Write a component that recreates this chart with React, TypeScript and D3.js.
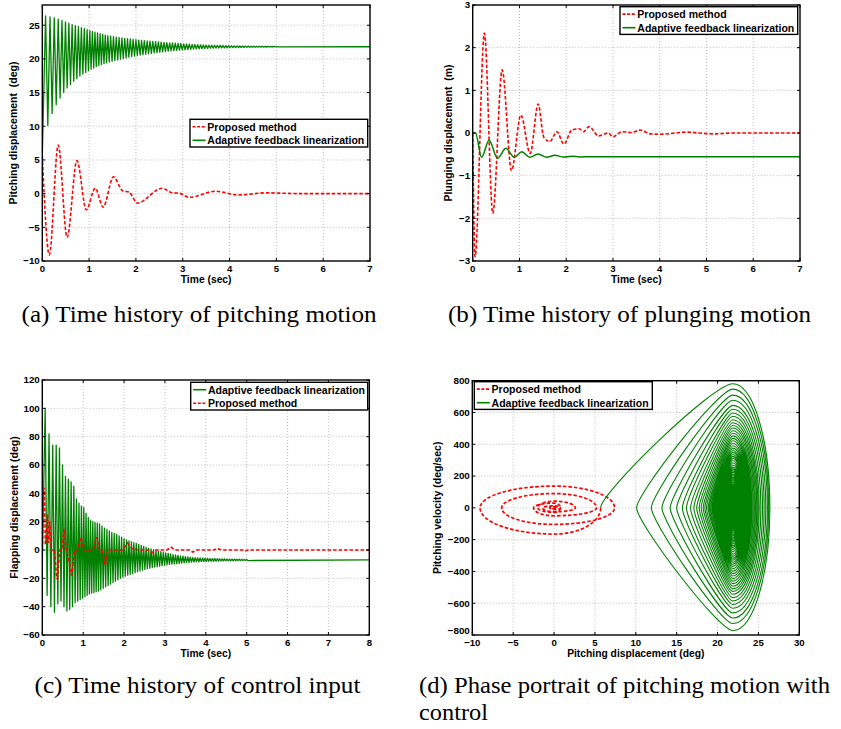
import React from "react";
import * as d3 from "d3";

// ---------------- data ----------------
// times (s) of successive pitch maxima of the adaptive-feedback-linearization response
const cycleTimes = [
  0.07, 0.165, 0.255, 0.34, 0.42, 0.495, 0.567, 0.637, 0.705, 0.771, 0.835, 0.897, 0.957, 1.015, 1.07, 1.125, 1.18, 1.235, 1.29, 1.345, 1.4,
  1.46, 1.52, 1.58, 1.64, 1.7, 1.76, 1.82, 1.88, 1.94, 2.0,
  2.06, 2.12, 2.18, 2.24, 2.3, 2.36, 2.42, 2.48, 2.54, 2.6,
  2.66, 2.72, 2.78, 2.84, 2.9, 2.96, 3.02, 3.08, 3.14, 3.2,
  3.26, 3.32, 3.38, 3.44, 3.5, 3.56, 3.62, 3.68, 3.74, 3.8,
  3.86, 3.92, 3.98, 4.04, 4.1, 4.16, 4.22, 4.28, 4.34, 4.4,
  4.46, 4.52, 4.58, 4.64, 4.7, 4.76, 4.82, 4.88, 4.94, 5.0,
];
// pitch maxima / minima (deg) per cycle
const pitchHigh = [
  26.4, 26.25, 26.1, 25.9, 25.7, 25.5, 25.3, 25.1, 24.95, 24.8, 24.65, 24.5, 24.35, 24.2, 24.08, 23.96, 23.85, 23.74, 23.64, 23.54, 23.45,
  23.38, 23.31, 23.24, 23.18, 23.12, 23.06, 23.0, 22.95, 22.9, 22.85,
  22.8, 22.76, 22.72, 22.68, 22.64, 22.6, 22.56, 22.52, 22.48, 22.45,
  22.42, 22.39, 22.36, 22.33, 22.3, 22.27, 22.24, 22.21, 22.18, 22.15,
  22.13, 22.11, 22.09, 22.07, 22.05, 22.04, 22.03, 22.02, 22.01, 22.0,
  21.98, 21.97, 21.96, 21.95, 21.94, 21.93, 21.92, 21.91, 21.9, 21.9,
  21.89, 21.88, 21.88, 21.87, 21.87, 21.86, 21.86, 21.85, 21.85, 21.84,
];
const pitchLow = [
  10.1, 11.9, 13.2, 14.2, 15.0, 15.7, 16.2, 16.7, 17.1, 17.45, 17.75, 18.0, 18.25, 18.45, 18.65, 18.85, 19.0, 19.15, 19.3, 19.43, 19.55,
  19.65, 19.75, 19.85, 19.95, 20.05, 20.15, 20.25, 20.35, 20.43, 20.5,
  20.57, 20.64, 20.7, 20.76, 20.82, 20.88, 20.94, 21.0, 21.05, 21.1,
  21.14, 21.18, 21.22, 21.26, 21.3, 21.33, 21.36, 21.39, 21.42, 21.45,
  21.48, 21.5, 21.52, 21.54, 21.56, 21.58, 21.6, 21.61, 21.62, 21.63,
  21.64, 21.65, 21.66, 21.67, 21.68, 21.69, 21.7, 21.7, 21.71, 21.72,
  21.72, 21.73, 21.74, 21.74, 21.75, 21.75, 21.76, 21.76, 21.77, 21.77,
];
// pitch-rate peaks (deg/s) on the rising and falling half of each cycle
const rateTop = [
  781, 747, 709, 677, 645, 620, 597, 576, 554, 535, 518, 502, 485, 469, 453, 437, 422, 406, 391, 376, 361,
  349, 336, 324, 312, 298, 284, 270, 256, 245, 234,
  223, 212, 202, 192, 182, 172, 162, 152, 143, 135,
  128, 121, 114, 107, 100, 94, 88, 82, 76, 70,
  65, 61, 57, 53, 49, 46, 43, 41, 39, 37,
  34, 32, 30, 28, 26, 24, 22, 21, 19, 18,
  17, 15, 14, 13, 12, 11, 10, 9, 8, 7,
];
const rateBottom = [
  -772, -728, -693, -661, -632, -608, -586, -565, -544, -526, -510, -493, -477, -461, -445, -429, -414, -398, -383, -368, -355,
  -342, -330, -318, -305, -291, -277, -263, -250, -239, -228,
  -217, -207, -197, -187, -177, -167, -157, -147, -139, -131,
  -124, -117, -110, -103, -97, -91, -85, -79, -73, -67,
  -63, -59, -55, -51, -47, -44, -42, -40, -38, -35,
  -33, -31, -29, -27, -25, -23, -21, -20, -18, -17,
  -16, -14, -13, -12, -11, -10, -9, -8, -7, -6,
];
// flap control input maxima / minima (deg) per cycle
const flapHigh = [
  100, 82, 74, 74, 72, 60, 52, 50, 48, 45, 36, 33, 31, 30, 26, 23, 21, 20, 19.5, 19, 18.5,
  17, 15.5, 14.5, 13.5, 12.5, 11.8, 11.0, 10.0, 9.0, 8.0,
  7.2, 6.5, 5.8, 5.2, 4.6, 4.0, 3.3, 2.6, 1.9, 1.2,
  0.7, 0.2, -0.3, -0.8, -1.2, -1.6, -2.0, -2.4, -2.8, -3.2,
  -3.5, -3.8, -4.1, -4.4, -4.7, -4.9, -5.1, -5.3, -5.4, -5.5,
  -5.6, -5.7, -5.8, -5.9, -6.0, -6.05, -6.1, -6.15, -6.2, -6.25,
  -6.3, -6.35, -6.4, -6.45, -6.5, -6.52, -6.55, -6.58, -6.6, -6.62,
];
const flapLow = [
  -32, -40, -44, -38, -36, -40, -43, -42, -40, -37, -36, -35, -34, -33, -32, -31, -30.5, -30, -29.5, -29, -28,
  -27, -26, -25, -24, -23, -22, -21, -20, -19.2, -18.5,
  -17.8, -17.2, -16.6, -16.0, -15.4, -14.8, -14.2, -13.7, -13.2, -12.8,
  -12.4, -12.0, -11.7, -11.4, -11.1, -10.8, -10.5, -10.2, -10.0, -9.8,
  -9.6, -9.4, -9.2, -9.0, -8.85, -8.7, -8.6, -8.5, -8.4, -8.3,
  -8.2, -8.1, -8.05, -8.0, -7.95, -7.9, -7.85, -7.8, -7.75, -7.7,
  -7.67, -7.64, -7.61, -7.58, -7.55, -7.52, -7.5, -7.48, -7.46, -7.44,
];
const pitchStart = 5.6;
const pitchFinal = 21.8;
const phaseStart = 5.7;
const phaseCenter = 21.85;
const flapStart = -10;
const flapFinal = -7.0;

// proposed method: pitching displacement keypoints (a)
const redPitchT = [0, 0.15, 0.34, 0.53, 0.74, 0.94, 1.13, 1.3, 1.52, 1.72, 1.85, 2.03, 2.56, 2.76, 2.93, 3.14, 3.7, 4.18, 4.8, 5.5, 7];
const redPitchV = [5.6, -9.1, 7.2, -6.5, 4.9, -2.4, 0.8, -2.0, 2.5, 0.4, 0.25, -1.4, 0.8, 0.15, 0.05, -0.55, 0.35, -0.2, 0.12, 0, 0];

// plunging displacement keypoints (b)
const redPlungeT = [0, 0.05, 0.25, 0.43, 0.63, 0.83, 1.03, 1.23, 1.4, 1.52, 1.65, 1.8, 1.95, 2.12, 2.28, 2.37, 2.49, 2.69, 2.9, 3.0, 3.19, 3.4, 3.58, 3.8, 4.0, 4.57, 5.14, 5.6, 7];
const redPlungeV = [0, -2.9, 2.34, -1.88, 1.48, -0.88, 0.42, -0.48, 0.68, -0.1, -0.2, 0.03, -0.26, 0.07, 0.1, 0.03, 0.15, -0.07, 0.0, -0.09, 0.03, 0.01, 0.07, -0.02, -0.03, 0.02, -0.02, 0, 0];
const greenPlungeT = [0, 0.06, 0.19, 0.35, 0.53, 0.71, 0.89, 1.05, 1.22, 1.4, 1.58, 1.76, 1.94, 2.12, 2.3, 2.5, 7];
const greenPlungeV = [0, 0, -0.57, -0.17, -0.59, -0.36, -0.57, -0.44, -0.57, -0.49, -0.57, -0.52, -0.565, -0.545, -0.56, -0.555, -0.555];

// proposed method: control input keypoints (c)
const redFlapT = [0, 0.03, 0.05, 0.075, 0.1, 0.13, 0.155, 0.18, 0.22, 0.3, 0.35, 0.37, 0.43, 0.48, 0.53, 0.59, 0.64, 0.72, 0.79, 0.86, 0.94, 1.02, 1.24, 1.33, 1.4, 1.46, 1.54, 1.6, 1.97, 2.08, 2.2, 2.4, 2.6, 2.68, 2.78, 3.05, 3.15, 3.25, 3.6, 3.68, 3.78, 4.2, 4.27, 4.4, 4.9, 4.97, 5.05, 8];
const redFlapV = [0, 30, 44, 4, 8, 25, 5, 20, 0, 0, -20, -20, 0, 0, 15, 0, -6, -18, 0, 0, 9, 0, 0, 9, 0, 0, -11, 0, 0, 5, 1, 0, 0, -2, 0, 0, 2, 0, 0, -1.5, 0, 0, 1, 0, 0, -0.5, 0, 0];

// proposed method: phase portrait turning points (d)
const redPhaseTheta = [5.7, -9.05, 7.4, -6.4, 5.2, -2.5, 0.8, -2.0, 2.6, -1.4, 0.8, -0.55, 0.35, -0.2, 0.12, 0];
const redPhaseRate = [-165, 137, -104, 90, -50, 30, -28, 42, -25, 12, -10, 8, -5, 3, -2];

// ticks
const ticksA_X = [0, 1, 2, 3, 4, 5, 6, 7];
const ticksA_Y = [-10, -5, 0, 5, 10, 15, 20, 25];
const ticksB_X = [0, 1, 2, 3, 4, 5, 6, 7];
const ticksB_Y = [-3, -2, -1, 0, 1, 2, 3];
const ticksC_X = [0, 1, 2, 3, 4, 5, 6, 7, 8];
const ticksC_Y = [-60, -40, -20, 0, 20, 40, 60, 80, 100, 120];
const ticksD_X = [-10, -5, 0, 5, 10, 15, 20, 25, 30];
const ticksD_Y = [-800, -600, -400, -200, 0, 200, 400, 600, 800];

const LEG_RED = "Proposed method";
const LEG_GREEN = "Adaptive feedback linearization";

// ---------------- styling ----------------
const SANS = "'Liberation Sans', Arial, Helvetica, sans-serif";
const SERIF = "'Liberation Serif', 'Times New Roman', serif";
const RED = "#ff0000";
const GREEN = "#008000";
const DASH = "3.5,2";

const fmt = (v: number) => (v < 0 ? "\u2212" + Math.abs(v) : String(v));

type Scale = d3.ScaleLinear<number, number>;

function Panel(props: {
  id: string;
  xs: Scale;
  ys: Scale;
  xTicks: number[];
  yTicks: number[];
  xLabel: string;
  yLabel: string;
  yLabelX: number;
  children?: React.ReactNode;
  legend?: React.ReactNode;
}) {
  const { id, xs, ys, xTicks, yTicks, xLabel, yLabel, yLabelX } = props;
  const [L, R] = xs.range();
  const [B, T] = ys.range();
  const tl = 3;
  const cornerWide = xTicks[0] < 0; // a wide negative label sits under the lowest y label
  return (
    <g>
      <defs>
        <clipPath id={id}>
          <rect x={L} y={T} width={R - L} height={B - T} />
        </clipPath>
      </defs>
      <rect x={L} y={T} width={R - L} height={B - T} fill="#fff" />
      {xTicks
        .filter((v) => xs(v) > L + 1 && xs(v) < R - 1)
        .map((v) => (
          <line key={"gx" + v} x1={xs(v)} x2={xs(v)} y1={T} y2={B} stroke="#b0b0b0" strokeWidth={0.8} strokeDasharray="1,2" />
        ))}
      {yTicks
        .filter((v) => ys(v) < B - 1 && ys(v) > T + 1)
        .map((v) => (
          <line key={"gy" + v} x1={L} x2={R} y1={ys(v)} y2={ys(v)} stroke="#b0b0b0" strokeWidth={0.8} strokeDasharray="1,2" />
        ))}
      <g clipPath={`url(#${id})`}>{props.children}</g>
      <rect x={L} y={T} width={R - L} height={B - T} fill="none" stroke="#000" strokeWidth={1.4} />
      {xTicks.map((v) => (
        <g key={"tx" + v}>
          <line x1={xs(v)} x2={xs(v)} y1={B} y2={B - tl} stroke="#000" strokeWidth={1} />
          <line x1={xs(v)} x2={xs(v)} y1={T} y2={T + tl} stroke="#000" strokeWidth={1} />
          <text x={xs(v)} y={B + 10.6} textAnchor="middle" fontFamily={SANS} fontWeight="bold" fontSize={9.6}>
            {fmt(v)}
          </text>
        </g>
      ))}
      {yTicks.map((v, j) => (
        <g key={"ty" + v}>
          <line x1={L} x2={L + tl} y1={ys(v)} y2={ys(v)} stroke="#000" strokeWidth={1} />
          <line x1={R} x2={R - tl} y1={ys(v)} y2={ys(v)} stroke="#000" strokeWidth={1} />
          <text
            x={L - 2.5}
            y={ys(v) + 3.4 - (cornerWide && j === 0 ? 4 : 0)}
            textAnchor="end"
            fontFamily={SANS}
            fontWeight="bold"
            fontSize={9.8}
          >
            {fmt(v)}
          </text>
        </g>
      ))}
      <text x={(L + R) / 2} y={B + 21.8} textAnchor="middle" fontFamily={SANS} fontWeight="bold" fontSize={10.3}>
        {xLabel}
      </text>
      <text
        transform={`translate(${yLabelX},${(B + T) / 2}) rotate(-90)`}
        textAnchor="middle"
        fontFamily={SANS}
        fontWeight="bold"
        fontSize={10.5}
        style={{ whiteSpace: "pre" }}
      >
        {yLabel}
      </text>
      {props.legend}
    </g>
  );
}

function Legend(props: { x: number; y: number; w: number; items: { label: string; color: string; dashed: boolean }[] }) {
  const { x, y, w, items } = props;
  const h = 27.7;
  return (
    <g>
      <rect x={x} y={y} width={w} height={h} fill="#fff" stroke="#000" strokeWidth={1.4} />
      {items.map((it, j) => {
        const yy = y + 7.4 + j * 13.6;
        return (
          <g key={it.label}>
            <line
              x1={x + 2.5}
              x2={x + 15.5}
              y1={yy}
              y2={yy}
              stroke={it.color}
              strokeWidth={1.6}
              strokeDasharray={it.dashed ? "3,1.6" : undefined}
            />
            <text x={x + 17.3} y={yy + 3.8} fontFamily={SANS} fontWeight="bold" fontSize={10.5}>
              {it.label}
            </text>
          </g>
        );
      })}
    </g>
  );
}

function zigzag(start: number, high: number[], low: number[], endT: number, endV: number): [number, number][] {
  const pts: [number, number][] = [[0, start]];
  cycleTimes.forEach((t, i) => {
    pts.push([t, high[i]]);
    const tn = i + 1 < cycleTimes.length ? (t + cycleTimes[i + 1]) / 2 : t + 0.03;
    pts.push([tn, low[i]]);
  });
  pts.push([endT, endV]);
  return pts;
}

const K = 0.5523;

function greenPhasePath(xs: Scale, ys: Scale): string {
  const p = d3.path();
  let prev = phaseStart;
  const c = phaseCenter;
  p.moveTo(xs(prev), ys(0));
  for (let i = 0; i < cycleTimes.length; i++) {
    const hi = pitchHigh[i];
    const lo = pitchLow[i];
    const vt = rateTop[i];
    const vb = rateBottom[i];
    p.bezierCurveTo(xs(prev), ys(0.12 * vt), xs(c - 0.15 * (c - prev)), ys(vt), xs(c), ys(vt));
    p.bezierCurveTo(xs(c + K * (hi - c)), ys(vt), xs(hi), ys(K * vt), xs(hi), ys(0));
    p.bezierCurveTo(xs(hi), ys(K * vb), xs(c + K * (hi - c)), ys(vb), xs(c), ys(vb));
    p.bezierCurveTo(xs(c - 0.15 * (c - lo)), ys(vb), xs(lo), ys(0.12 * vb), xs(lo), ys(0));
    prev = lo;
  }
  return p.toString();
}

function redPhasePath(xs: Scale, ys: Scale): string {
  const p = d3.path();
  p.moveTo(xs(redPhaseTheta[0]), ys(0));
  for (let i = 0; i < redPhaseRate.length; i++) {
    const a = redPhaseTheta[i];
    const b = redPhaseTheta[i + 1];
    const v = redPhaseRate[i];
    const c = Math.min(a, b) < 0 && Math.max(a, b) > 0 ? 0 : (a + b) / 2;
    p.bezierCurveTo(xs(a), ys(K * v), xs(c + K * (a - c)), ys(v), xs(c), ys(v));
    p.bezierCurveTo(xs(c + K * (b - c)), ys(v), xs(b), ys(K * v), xs(b), ys(0));
  }
  return p.toString();
}

export default function App() {
  // panel (a)
  const xa = d3.scaleLinear().domain([0, 7]).range([42.3, 370]);
  const ya = d3.scaleLinear().domain([-10, 28]).range([261, 5]);
  const lineA = d3.line<[number, number]>().x((d) => xa(d[0])).y((d) => ya(d[1]));
  const redA = d3
    .line<number>()
    .x((_, i) => xa(redPitchT[i]))
    .y((d) => ya(d))
    .curve(d3.curveMonotoneX)(redPitchV) as string;
  const greenA = lineA(zigzag(pitchStart, pitchHigh, pitchLow, 7, pitchFinal)) as string;

  // panel (b)
  const xb = d3.scaleLinear().domain([0, 7]).range([472.7, 800]);
  const yb = d3.scaleLinear().domain([-3, 3]).range([261, 5]);
  const redB = d3
    .line<number>()
    .x((_, i) => xb(redPlungeT[i]))
    .y((d) => yb(d))
    .curve(d3.curveMonotoneX)(redPlungeV) as string;
  const greenB = d3
    .line<number>()
    .x((_, i) => xb(greenPlungeT[i]))
    .y((d) => yb(d))
    .curve(d3.curveMonotoneX)(greenPlungeV) as string;

  // panel (c)
  const xc = d3.scaleLinear().domain([0, 8]).range([42.3, 369.3]);
  const yc = d3.scaleLinear().domain([-60, 120]).range([635, 380]);
  const lineC = d3.line<[number, number]>().x((d) => xc(d[0])).y((d) => yc(d[1]));
  const greenC = lineC(zigzag(flapStart, flapHigh, flapLow, 8, flapFinal)) as string;
  const redC = d3
    .line<number>()
    .x((_, i) => xc(redFlapT[i]))
    .y((d) => yc(d))(redFlapV) as string;

  // panel (d)
  const xd = d3.scaleLinear().domain([-10, 30]).range([472.3, 799.3]);
  const yd = d3.scaleLinear().domain([-800, 800]).range([635, 380.7]);
  const greenD = greenPhasePath(xd, yd);
  const redD = redPhasePath(xd, yd);

  const red = { color: RED, dashed: true };
  const green = { color: GREEN, dashed: false };

  return (
    <svg
      width={841}
      height={729}
      viewBox="0 0 841 729"
      style={{ position: "absolute", left: 0, top: 0, display: "block", background: "#fff" }}
    >
      <rect x={0} y={0} width={841} height={729} fill="#fff" />

      <Panel
        id="clipA"
        xs={xa}
        ys={ya}
        xTicks={ticksA_X}
        yTicks={ticksA_Y}
        xLabel="Time (sec)"
        yLabel={"Pitching displacement  (deg)"}
        yLabelX={16.5}
        legend={
          <Legend x={190} y={119.3} w={177.7} items={[{ label: LEG_RED, ...red }, { label: LEG_GREEN, ...green }]} />
        }
      >
        <path d={greenA} fill="none" stroke={GREEN} strokeWidth={1.3} strokeLinejoin="round" />
        <path d={redA} fill="none" stroke={RED} strokeWidth={1.6} strokeDasharray={DASH} />
      </Panel>

      <Panel
        id="clipB"
        xs={xb}
        ys={yb}
        xTicks={ticksB_X}
        yTicks={ticksB_Y}
        xLabel="Time (sec)"
        yLabel={"Plunging displacement  (m)"}
        yLabelX={452}
        legend={
          <Legend x={620} y={6.7} w={177.7} items={[{ label: LEG_RED, ...red }, { label: LEG_GREEN, ...green }]} />
        }
      >
        <path d={redB} fill="none" stroke={RED} strokeWidth={1.6} strokeDasharray={DASH} />
        <path d={greenB} fill="none" stroke={GREEN} strokeWidth={1.5} />
      </Panel>

      <Panel
        id="clipC"
        xs={xc}
        ys={yc}
        xTicks={ticksC_X}
        yTicks={ticksC_Y}
        xLabel="Time (sec)"
        yLabel="Flapping displacement (deg)"
        yLabelX={18}
        legend={
          <Legend x={190.7} y={382.3} w={177} items={[{ label: LEG_GREEN, ...green }, { label: LEG_RED, ...red }]} />
        }
      >
        <path d={greenC} fill="none" stroke={GREEN} strokeWidth={1.3} strokeLinejoin="round" />
        <path d={redC} fill="none" stroke={RED} strokeWidth={1.6} strokeDasharray={DASH} />
      </Panel>

      <Panel
        id="clipD"
        xs={xd}
        ys={yd}
        xTicks={ticksD_X}
        yTicks={ticksD_Y}
        xLabel="Pitching displacement (deg)"
        yLabel="Pitching velocity (deg/sec)"
        yLabelX={440.5}
        legend={
          <Legend x={474.3} y={381.7} w={178} items={[{ label: LEG_RED, ...red }, { label: LEG_GREEN, ...green }]} />
        }
      >
        <path d={redD} fill="none" stroke={RED} strokeWidth={1.7} strokeDasharray={DASH} />
        <path d={greenD} fill="none" stroke={GREEN} strokeWidth={1.1} />
      </Panel>

      <g fontFamily={SERIF} fontSize={22.5} fill="#000">
        <text x={21.6} y={322} textLength={355} lengthAdjust="spacingAndGlyphs">
          (a) Time history of pitching motion
        </text>
        <text x={448} y={322} textLength={363} lengthAdjust="spacingAndGlyphs">
          (b) Time history of plunging motion
        </text>
        <text x={34.5} y={693} textLength={326} lengthAdjust="spacingAndGlyphs">
          (c) Time history of control input
        </text>
        <text x={419} y={693} textLength={411} lengthAdjust="spacingAndGlyphs">
          (d) Phase portrait of pitching motion with
        </text>
        <text x={419} y={720} textLength={69} lengthAdjust="spacingAndGlyphs">
          control
        </text>
      </g>
    </svg>
  );
}
